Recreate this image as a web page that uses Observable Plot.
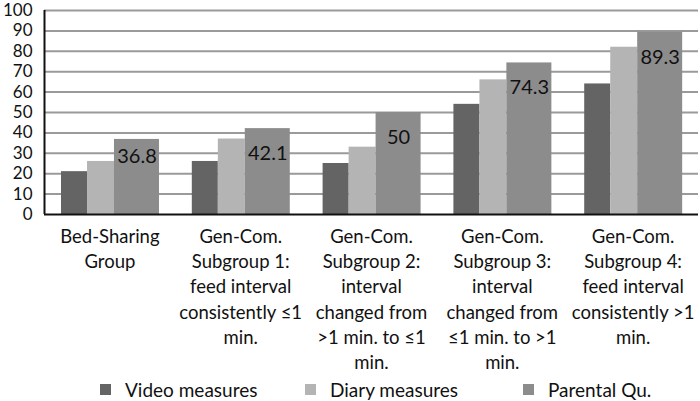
<!DOCTYPE html>
<html>
<head>
<meta charset="utf-8">
<script src="https://cdn.jsdelivr.net/npm/d3@7"></script>
<script src="https://cdn.jsdelivr.net/npm/@observablehq/plot@0.6"></script>
<style>
  html, body { margin: 0; padding: 0; background: #fff; }
  #chart { width: 700px; height: 401px; overflow: hidden; font-family: Lato, "Open Sans", sans-serif; }
  .legend { position: relative; height: 23px; font-size: 19px; color: #111; }
  .legend .item { position: absolute; top: 0; height: 23px; display: flex; align-items: center; white-space: nowrap; }
  .legend .sw { width: 11px; height: 11px; margin-right: 14px; }
</style>
</head>
<body>
<div id="chart"></div>
<script>
const categories = [
  "Bed-Sharing\nGroup",
  "Gen-Com.\nSubgroup 1:\nfeed interval\nconsistently ≤1\nmin.",
  "Gen-Com.\nSubgroup 2:\ninterval\nchanged from\n>1 min. to ≤1\nmin.",
  "Gen-Com.\nSubgroup 3:\ninterval\nchanged from\n≤1 min. to >1\nmin.",
  "Gen-Com.\nSubgroup 4:\nfeed interval\nconsistently >1\nmin."
];
const seriesNames = ["Video measures", "Diary measures", "Parental Qu."];
const video = [21, 26, 25, 54, 64];
const diary = [26, 37, 33, 66, 82];
const parental = [36.8, 42.1, 50, 74.3, 89.3];
const yTicks = [0, 10, 20, 30, 40, 50, 60, 70, 80, 90, 100];

const colors = ["#646464", "#b4b4b4", "#8c8c8c"];
// bar slot within each category band (fraction of band)
const slots = [[0.13, 0.329], [0.329, 0.535], [0.535, 0.879]];

const seriesValues = [video, diary, parental];
const rows = [];
categories.forEach((c, i) => {
  seriesValues.forEach((vals, s) => {
    rows.push({i, s, series: seriesNames[s], value: vals[i]});
  });
});
const labelRows = rows.filter(d => d.s === 2);

const H = 378;
const plot = Plot.plot({
  width: 700,
  height: H,
  marginLeft: 44,
  marginRight: 2,
  marginTop: 10,
  marginBottom: H - 214,
  style: {fontFamily: "Lato, 'Open Sans', sans-serif", fontSize: "18px", color: "#111", background: "#fff", overflow: "visible"},
  x: {domain: [0, categories.length], axis: null},
  y: {domain: [0, 100], axis: null},
  color: {domain: seriesNames, range: colors},
  marks: [
    Plot.ruleY(yTicks.slice(1), {stroke: "#9a9a9a", strokeWidth: 2}),
    Plot.rectY(rows, {
      x1: d => d.i + slots[d.s][0],
      x2: d => d.i + slots[d.s][1],
      y1: 0,
      y2: "value",
      fill: "series"
    }),
    Plot.ruleY([0], {stroke: "#111", strokeWidth: 2}),
    Plot.ruleX([0], {stroke: "#111", strokeWidth: 2}),
    Plot.axisY({ticks: yTicks, tickSize: 0, tickPadding: 12, fontSize: 17, label: null}),
    Plot.text(labelRows.filter(d => d.i === 0), {
      x: d => d.i + (slots[2][0] + slots[2][1]) / 2,
      y: "value", text: d => String(d.value), dy: 17, fontSize: 20, fill: "#111"
    }),
    Plot.text(labelRows.filter(d => d.i !== 0), {
      x: d => d.i + (slots[2][0] + slots[2][1]) / 2,
      y: "value", text: d => String(d.value), dy: 25, fontSize: 20, fill: "#111"
    }),
    Plot.text(categories, {
      x: (d, i) => i + 0.5,
      frameAnchor: "bottom",
      text: d => d,
      lineAnchor: "top",
      lineHeight: 1.37,
      dy: 10,
      fontSize: 18.5,
      fill: "#111"
    })
  ]
});

const chart = document.getElementById("chart");
chart.appendChild(plot);

const legend = document.createElement("div");
legend.className = "legend";
const legendLefts = [100, 305, 523];
seriesNames.forEach((name, k) => {
  const item = document.createElement("div");
  item.className = "item";
  item.style.left = legendLefts[k] + "px";
  const sw = document.createElement("span");
  sw.className = "sw";
  sw.style.background = colors[k];
  const t = document.createElement("span");
  t.textContent = name;
  item.appendChild(sw);
  item.appendChild(t);
  legend.appendChild(item);
});
chart.appendChild(legend);
</script>
</body>
</html>
